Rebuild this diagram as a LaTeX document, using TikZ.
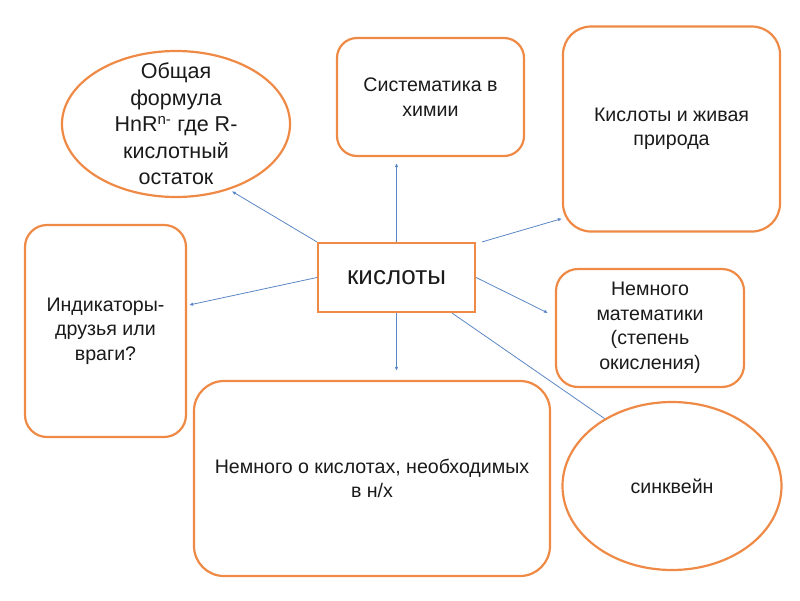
\documentclass[tikz,border=0pt]{standalone}
\usepackage{fontspec}
\setmainfont{Liberation Sans}
\usetikzlibrary{shapes.geometric,arrows.meta,calc}
\definecolor{bord}{HTML}{EE8A45}
\definecolor{link}{HTML}{5B86C5}
\definecolor{txt}{HTML}{1A1A1A}
\begin{document}
\begin{tikzpicture}[x=1pt,y=-1pt,
  box/.style={draw=bord,line width=2.2pt,rectangle,inner sep=0pt,align=center,text=txt,
    font=\fontsize{19.6}{24.5}\selectfont},
  oval/.style={draw=bord,line width=2.2pt,ellipse,inner sep=0pt,align=center,text=txt},
  plain/.style={inner sep=0pt,align=center,text=txt},
  link/.style={draw=link,line width=0.8pt,-{Latex[length=4pt,width=3.5pt]}}]
\useasboundingbox (0,0) rectangle (800,600);
\node[oval,minimum width=228pt,minimum height=146pt] (e1) at (176,124) {};
\node[plain,font=\fontsize{21.5}{26.5}\selectfont] (e1t) at (e1.center)
  {Общая\\формула\\HnR\textsuperscript{n-} где R-\\кислотный\\остаток};
\node[box,rounded corners=20pt,minimum width=187pt,minimum height=118pt] (sys) at (430.5,97)
  {Систематика в\\химии};
\node[box,rounded corners=28pt,minimum width=217pt,minimum height=205pt] (liv) at (671.5,129)
  {\raisebox{-4pt}{}Кислоты и живая\\природа};
\node[box,minimum width=157pt,minimum height=69pt,font=\fontsize{26}{28}\selectfont] (cen) at (396.5,277.5)
  {кислоты};
\node[box,rounded corners=22pt,minimum width=161pt,minimum height=212pt] (ind) at (105.5,331)
  {Индикаторы-\\друзья или\\враги?};
\node[box,rounded corners=22pt,minimum width=188pt,minimum height=118pt] (mat) at (650,328)
  {Немного\\математики\\(степень\\окисления)};
\node[box,rounded corners=30pt,minimum width=356pt,minimum height=195pt] (bot) at (372,478.5)
  {Немного о кислотах, необходимых\\в н/х};
\node[oval,minimum width=219pt,minimum height=168pt,font=\fontsize{19.6}{24}\selectfont] (sin) at (672,486)
  {синквейн};
\draw[link,shorten >=3pt] (cen.north west) -- (e1.-51);
\draw[link,shorten >=6pt] (cen.north) -- (cen.north |- sys.south);
\draw[link] ($(cen.north east)+(6,0)$) -- ($(liv.south west)+(0,-14)$);
\draw[link] (cen.west) -- ($(ind.east)+(2,-26)$);
\draw[link,shorten >=9pt] (cen.south) -- (cen.south |- bot.north);
\draw[link] (cen.east) -- ($(mat.west)+(-7,-15)$);
\draw[draw=link,line width=0.8pt] ($(cen.south east)+(-24,0)$) -- (sin.135);
\end{tikzpicture}
\end{document}
